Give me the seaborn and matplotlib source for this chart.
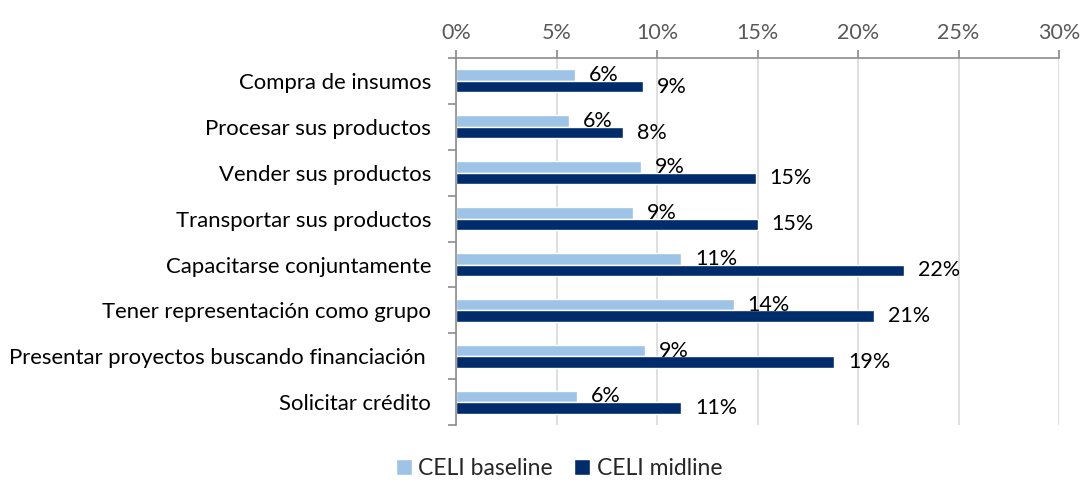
import matplotlib
matplotlib.use("Agg")
import matplotlib.pyplot as plt
import seaborn as sns
import pandas as pd
import numpy as np
from matplotlib.ticker import FixedLocator, PercentFormatter

categories = [
    "Compra de insumos",
    "Procesar sus productos",
    "Vender sus productos",
    "Transportar sus productos",
    "Capacitarse conjuntamente",
    "Tener representación como grupo",
    "Presentar proyectos buscando financiación ",
    "Solicitar crédito",
]
baseline = [5.9, 5.6, 9.2, 8.8, 11.2, 13.8, 9.4, 6.0]
midline = [9.3, 8.3, 14.9, 15.0, 22.3, 20.8, 18.8, 11.2]
series_names = ["CELI baseline", "CELI midline"]
xticks = [0, 5, 10, 15, 20, 25, 30]

df = pd.DataFrame({
    "cat": categories * 2,
    "val": baseline + midline,
    "series": [series_names[0]] * len(categories) + [series_names[1]] * len(categories),
})

sns.set_theme(style="white")
plt.rcParams["font.family"] = ["Lato", "DejaVu Sans"]

FS = 15.5

fig = plt.figure(figsize=(10.84, 4.87), dpi=100)
ax = fig.add_axes([0.421, 0.127, 0.556, 0.754])

palette = {series_names[0]: "#9DC3E6", series_names[1]: "#002C6C"}
sns.barplot(data=df, y="cat", x="val", hue="series", orient="h",
            palette=palette, width=0.5, ax=ax, legend=True, saturation=1)

ax.set_xlim(0, 30)
ax.set_ylim(len(categories) - 0.5, -0.5)
ax.xaxis.tick_top()
ax.xaxis.set_label_position("top")
ax.xaxis.set_major_locator(FixedLocator(xticks))
ax.xaxis.set_major_formatter(PercentFormatter(decimals=0))
ax.set_xlabel("")
ax.set_ylabel("")
ax.grid(axis="x", color="#D9D9D9", linewidth=1.2)
ax.set_axisbelow(True)

for s in ["right", "bottom"]:
    ax.spines[s].set_visible(False)
for s in ["top", "left"]:
    ax.spines[s].set_color("#8C8C8C")
    ax.spines[s].set_linewidth(1.2)

ax.tick_params(axis="x", which="major", top=True, direction="out", length=6,
               color="#8C8C8C", labelsize=FS, labelcolor="#595959", pad=5)
ax.tick_params(axis="y", which="major", left=False, labelsize=15.9, labelcolor="#000000", pad=12)
ax.yaxis.set_minor_locator(FixedLocator(np.arange(-0.5, len(categories), 1.0)))
ax.tick_params(axis="y", which="minor", left=True, direction="out", length=6, color="#8C8C8C", width=1.2)

for i, cont in enumerate(ax.containers):
    vals = baseline if i == 0 else midline
    labels = [f"{v:.0f}%" for v in vals]
    ax.bar_label(cont, labels=labels, padding=10, fontsize=FS, color="#000000")

leg = ax.legend(loc="upper center", bbox_to_anchor=(0.17, -0.045), ncol=2, frameon=False,
                fontsize=16.5, handlelength=0.7, handleheight=0.7, columnspacing=0.9,
                handletextpad=0.3, borderpad=0.2)

fig.savefig("out.png", dpi=100)
